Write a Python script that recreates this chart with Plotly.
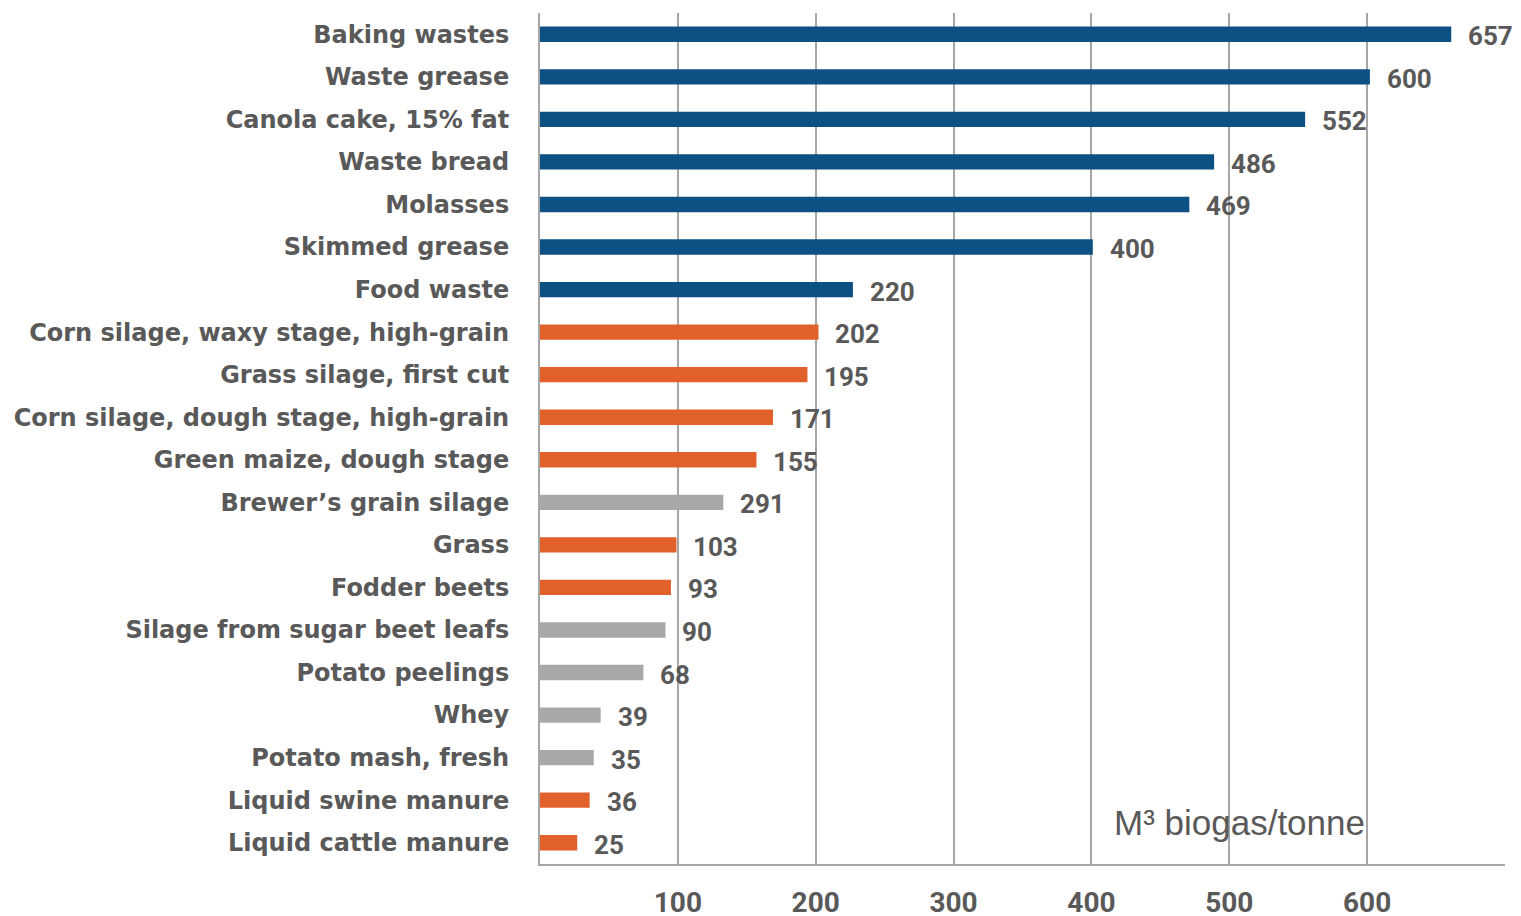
import plotly.graph_objects as go

categories = [
    "Baking wastes", "Waste grease", "Canola cake, 15% fat", "Waste bread",
    "Molasses", "Skimmed grease", "Food waste",
    "Corn silage, waxy stage, high-grain", "Grass silage, first cut",
    "Corn silage, dough stage, high-grain", "Green maize, dough stage",
    "Brewer\u2019s grain silage", "Grass", "Fodder beets",
    "Silage from sugar beet leafs", "Potato peelings", "Whey",
    "Potato mash, fresh", "Liquid swine manure", "Liquid cattle manure",
]
# bar lengths as drawn in the picture
bar_values = [661, 602, 555, 489, 471, 401, 227, 202, 194, 169, 157,
              133, 99, 95, 91, 75, 44, 39, 36, 27]
# numbers printed next to the bars
value_labels = ["657", "600", "552", "486", "469", "400", "220", "202", "195",
                "171", "155", "291", "103", "93", "90", "68", "39", "35",
                "36", "25"]
groups = ["b", "b", "b", "b", "b", "b", "b", "o", "o", "o", "o",
          "g", "o", "o", "g", "g", "g", "g", "o", "o"]
tick_values = [100, 200, 300, 400, 500, 600]

palette = {"b": "#0D5083", "o": "#E2602A", "g": "#A7A8AA"}
colors = [palette[g] for g in groups]

TEXT = "#595959"
LABEL_FONT = "DejaVu Sans"
NUM_FONT = "Roboto"

W, H = 1521, 916
L, R, T, B = 532, 24, 5, 60
plot_w = W - L - R
plot_h = H - T - B

fig = go.Figure()
fig.add_trace(go.Bar(
    y=categories, x=bar_values, orientation="h",
    marker=dict(color=colors, line=dict(width=0)),
    width=0.36, hoverinfo="skip",
))

for cat, v, lab in zip(categories, bar_values, value_labels):
    fig.add_annotation(
        x=v, y=cat, text=lab, showarrow=False, xanchor="left",
        xshift=15, yshift=-2,
        font=dict(family=NUM_FONT, size=26, color=TEXT, weight="bold"),
    )

fig.add_annotation(
    xref="paper", yref="paper",
    x=(1104 - L) / plot_w, y=((H - B) - 814) / plot_h,
    xanchor="left", yanchor="middle", showarrow=False,
    text="M\u00b3 biogas/tonne",
    font=dict(family="Liberation Sans", size=35, color=TEXT),
)

fig.update_layout(
    width=W, height=H,
    margin=dict(l=L, r=R, t=T, b=B, autoexpand=False),
    plot_bgcolor="white", paper_bgcolor="white",
    showlegend=False,
    xaxis=dict(
        range=[0, 700], tickvals=tick_values, automargin=False,
        showgrid=True, gridcolor="#A6A6A6", gridwidth=1.5,
        showline=True, linecolor="#A6A6A6", linewidth=2,
        zeroline=False, ticks="", ticklabelstandoff=12,
        tickfont=dict(family=NUM_FONT, size=28, color=TEXT, weight="bold"),
    ),
    yaxis=dict(
        autorange="reversed", showgrid=False, automargin=False,
        showline=True, linecolor="#A6A6A6", linewidth=2,
        ticks="", ticklabelstandoff=24,
        tickfont=dict(family=LABEL_FONT, size=24, color=TEXT, weight="bold"),
    ),
)

fig.write_html("out.html")
